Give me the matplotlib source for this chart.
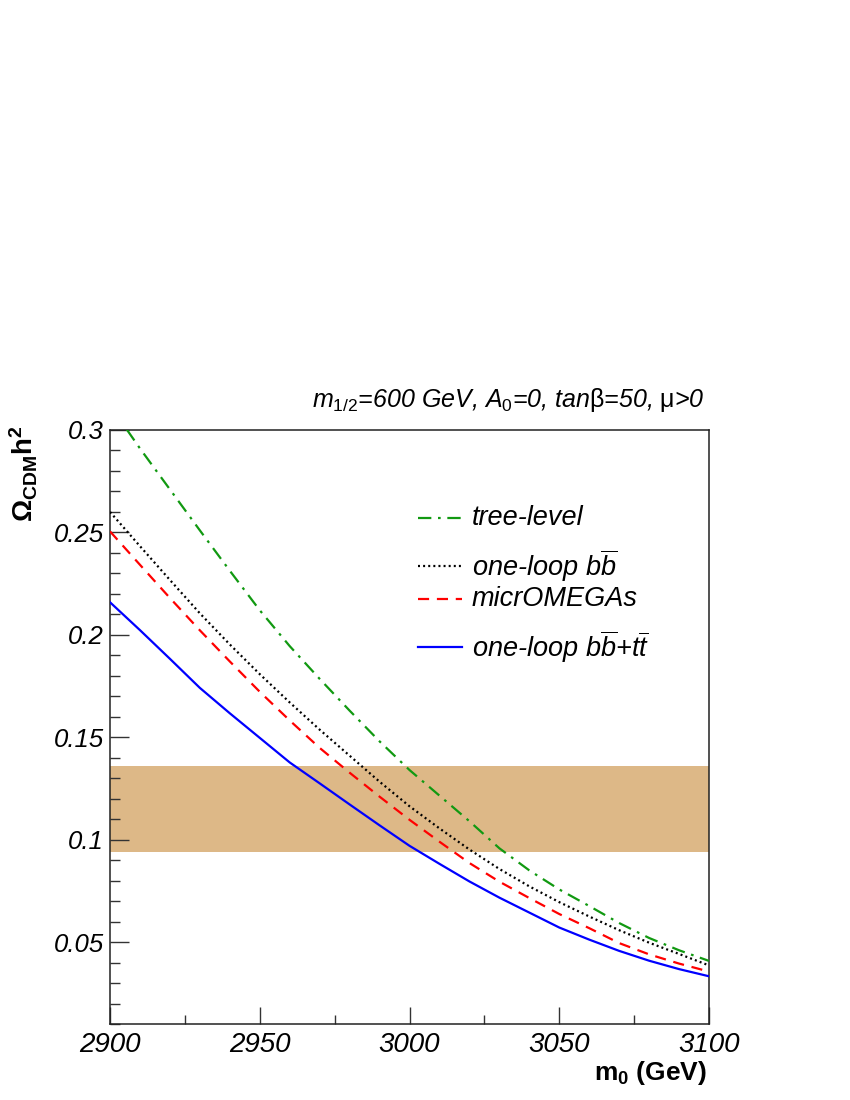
import matplotlib
matplotlib.use("Agg")
import matplotlib.pyplot as plt
from matplotlib.ticker import MultipleLocator, FuncFormatter
from matplotlib.lines import Line2D

plt.rcParams['font.family'] = ['Liberation Sans', 'DejaVu Sans']
plt.rcParams['mathtext.fontset'] = 'custom'
plt.rcParams['mathtext.rm'] = 'Liberation Sans'
plt.rcParams['mathtext.it'] = 'Liberation Sans:italic'
plt.rcParams['mathtext.bf'] = 'Liberation Sans:bold'

# ---- data ----
m0 = [2900, 2910, 2920, 2930, 2940, 2950, 2960, 2970, 2980, 2990, 3000,
      3010, 3020, 3030, 3040, 3050, 3060, 3070, 3080, 3090, 3100]
tree_level = [0.312, 0.291, 0.271, 0.251, 0.2313, 0.2120, 0.1945, 0.1785, 0.1630, 0.1480, 0.1340,
              0.1215, 0.1090, 0.0958, 0.0850, 0.0757, 0.0676, 0.0593, 0.0520, 0.0460, 0.0408]
one_loop_bb = [0.2600, 0.2433, 0.2268, 0.2105, 0.1953, 0.1808, 0.1670, 0.1537, 0.1410, 0.1283, 0.1163,
               0.1055, 0.0952, 0.0857, 0.0772, 0.0695, 0.0625, 0.0558, 0.0497, 0.0442, 0.0386]
micromegas = [0.2505, 0.2342, 0.2180, 0.2022, 0.1870, 0.1722, 0.1582, 0.1448, 0.1327, 0.1210, 0.1097,
              0.0990, 0.0886, 0.0795, 0.0715, 0.0637, 0.0568, 0.0495, 0.0440, 0.0395, 0.0356]
one_loop_bbtt = [0.2159, 0.2023, 0.1883, 0.1741, 0.1617, 0.1497, 0.1377, 0.1275, 0.1172, 0.1070, 0.0970,
                 0.0882, 0.0796, 0.0717, 0.0644, 0.0571, 0.0512, 0.0457, 0.0409, 0.0368, 0.0333]
band_low, band_high = 0.094, 0.136

legend_labels = ["tree-level", r"one-loop $b\overline{b}$", "micrOMEGAs",
                 r"one-loop $b\overline{b}$+$t\overline{t}$"]

# ---- figure ----
fig = plt.figure(figsize=(8.5, 11), dpi=100)
ax = fig.add_axes([110/850, 1-1024/1100, 599/850, 594/1100])

ax.axhspan(band_low, band_high, color='#DDB887', lw=0, zorder=1)

green = '#119911'
styles = [
    dict(color=green, lw=1.6, dashes=(6, 3, 1.2, 3)),
    dict(color='black', lw=1.6, dashes=(0.9, 1.4)),
    dict(color='#ff0000', lw=1.6, dashes=(5, 3.5)),
    dict(color='#0000ff', lw=1.6),
]
series = [tree_level, one_loop_bb, micromegas, one_loop_bbtt]
for ys, st in zip(series, styles):
    ax.plot(m0, ys, zorder=3, **st)

ax.set_xlim(2900, 3100)
ax.set_ylim(0.01, 0.3)

ax.xaxis.set_major_locator(MultipleLocator(50))
ax.xaxis.set_minor_locator(MultipleLocator(25))
ax.yaxis.set_major_locator(MultipleLocator(0.05))
ax.yaxis.set_minor_locator(MultipleLocator(0.01))
ax.yaxis.set_major_formatter(FuncFormatter(lambda v, p: "%g" % round(v, 3)))
ax.xaxis.set_major_formatter(FuncFormatter(lambda v, p: "%d" % round(v)))

ax.tick_params(axis='both', which='both', direction='in', top=False, right=False,
               width=1.0, color='#333333')
ax.tick_params(axis='y', which='major', length=14, pad=4.5, labelsize=18.5)
ax.tick_params(axis='y', which='minor', length=7)
ax.tick_params(axis='x', which='major', length=12.5, pad=6, labelsize=20)
ax.tick_params(axis='x', which='minor', length=6.5)
for lbl in ax.get_xticklabels() + ax.get_yticklabels():
    lbl.set_fontstyle('italic')
for sp in ax.spines.values():
    sp.set_linewidth(1.1)
    sp.set_color('#222222')

# legend (manual placement)
leg_y = [518, 566, 599, 647]
for lab, st, yp in zip(legend_labels, styles, leg_y):
    yf = 1 - yp / 1100
    fig.add_artist(Line2D([418/850, 462/850], [yf, yf], transform=fig.transFigure, **st))
    fig.text(472/850, yf, lab, fontsize=19.5, fontstyle='italic', va='center', ha='left')

# title
fig.text(705/850, 1-400/1100,
         r"$m_{1/2}$=600 GeV, $A_{0}$=0, tan$\mathrm{\beta}$=50, $\mathrm{\mu}$>0",
         fontsize=18, fontstyle='italic', ha='right', va='center')

# axis labels
fig.text(707/850, 1-1073/1100, r"$\mathbf{m_{0}}$ (GeV)", fontsize=19, fontweight='bold',
         ha='right', va='center')
fig.text(24/850, 1-425/1100, r"$\mathbf{\Omega_{CDM}h^{2}}$", fontsize=20, fontweight='bold',
         rotation=90, ha='center', va='top')

fig.savefig("out.png", dpi=100)
